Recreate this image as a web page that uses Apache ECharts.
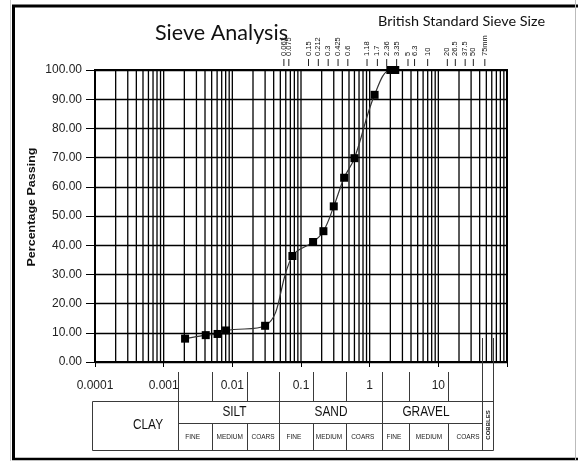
<!DOCTYPE html>
<html><head><meta charset="utf-8">
<script src="https://cdn.jsdelivr.net/npm/echarts@6/dist/echarts.min.js"></script>
<style>html,body{margin:0;padding:0;background:#fff}#c{width:578px;height:461px}</style>
</head><body><div id="c"></div>
<script>
// ---- data ----
const grainSize = [0.00205, 0.0041, 0.0061, 0.0081, 0.030, 0.075, 0.15, 0.212, 0.3, 0.425, 0.6, 1.18, 2.0, 2.36];
const percentPassing = [8.0, 9.2, 9.6, 10.8, 12.4, 36.3, 41.1, 44.8, 53.3, 63.1, 69.8, 91.5, 100, 100];
const xTickLabels = ['0.0001', '0.001', '0.01', '0.1', '1', '10'];
const sieveSizes = [0.063, 0.075, 0.15, 0.212, 0.3, 0.425, 0.6, 1.18, 1.7, 2.36, 3.35, 5, 6.3, 10, 20, 26.5, 37.5, 50, 75];
const sieveLabels = ['0.063', '0.075', '0.15', '0.212', '0.3', '0.425', '0.6', '1.18', '1.7', '2.36', '3.35', '5', '6.3', '10', '20', '26.5', '37.5', '50', '75mm'];
const soilClasses = ['CLAY', 'SILT', 'SAND', 'GRAVEL'];
const subClasses = ['FINE', 'MEDIUM', 'COARS'];
const cobblesLabel = 'COBBLES';

// log grid line values (1..9 per decade)
const gridVals = [];
for (let k = -4; k <= 1; k++) for (let m = 1; m <= 9; m++) gridVals.push(Number((m * Math.pow(10, k)).toPrecision(3)));
gridVals.push(100);

const ctx = document.createElement('canvas').getContext('2d');
function fit(text, font, target) { ctx.font = font; return target / ctx.measureText(text).width; }

const chart = echarts.init(document.getElementById('c'), null, { renderer: 'canvas' });

// ---- table graphics (decoration) ----
const G = [];
const LC = '#3a3a3a';
function L(x1, y1, x2, y2, w, c) { G.push({ type: 'line', z: 50, silent: true, shape: { x1, y1, x2, y2 }, style: { stroke: c || LC, lineWidth: w || 1 } }); }
function T(text, x, y, size, opt) {
  opt = opt || {};
  G.push({ type: 'text', z: 60, silent: true, x, y, rotation: opt.rot || 0, scaleX: opt.sx || 1,
    style: { text, fontSize: size, fontFamily: opt.ff || 'Liberation Sans', fontWeight: opt.fw || 'normal',
      fill: opt.fill || '#111', align: opt.align || 'center', verticalAlign: 'middle' } });
}
// frame
L(12, 6, 578, 6, 3, '#000');
L(13.5, 5, 13.5, 460, 3, '#000');
L(12, 459, 578, 459, 2.5, '#000');
L(575.5, 0, 575.5, 461, 1, '#bbb');
L(10.5, 0, 10.5, 461, 1, '#ccc');
// table outline
const tTop = 401.5, tMid = 423.5, tBot = 450.5, rowTop = 372;
L(92.5, tTop, 493.5, tTop);
L(92.5, tBot, 493.5, tBot);
L(178.5, tMid, 482.5, tMid);
L(92.5, tTop, 92.5, tBot);
[178.5, 279.5, 382.5].forEach(x => L(x, rowTop, x, tBot));
[212.5, 247.5, 313.5, 346.5, 409.5, 448.5].forEach(x => { L(x, rowTop, x, tTop); L(x, tMid, x, tBot); });
L(482.5, 338, 482.5, tBot);
L(493.5, 338, 493.5, tBot);
// table texts
const bigFont = 15, sxBig = 0.79;
T(soilClasses[0], 148, 425, bigFont, { sx: sxBig });
T(soilClasses[1], 234.5, 412, bigFont, { sx: sxBig });
T(soilClasses[2], 331, 412, bigFont, { sx: sxBig });
T(soilClasses[3], 426, 412, bigFont, { sx: sxBig });
const subX = [192.7, 229.7, 263, 294, 329, 362.7, 394, 429, 468];
subX.forEach((x, i) => T(subClasses[i % 3], x, 437, 6.5, { fill: '#222' }));
T(cobblesLabel, 488, 425, 6, { rot: Math.PI / 2, fw: 'bold', fill: '#222' });
// titles
T('Sieve Analysis', 155, 33, 22, { ff: 'Lato', align: 'left', sx: fit('Sieve Analysis', '22px Lato', 133), fill: '#111' });
T('British Standard Sieve Size', 378, 22, 12.5, { ff: 'Lato', align: 'left', sx: fit('British Standard Sieve Size', '12.5px Lato', 167), fill: '#111' });
T('Percentage Passing', 32, 207, 11, { rot: Math.PI / 2, fw: 'bold', sx: fit('Percentage Passing', 'bold 11px Liberation Sans', 119), fill: '#111' });

const option = {
  animation: false,
  backgroundColor: '#fff',
  grid: [
    { left: 95, right: 71, top: 70, bottom: 99, show: true, borderColor: '#000', borderWidth: 2 },
    { left: 101, right: 85, top: 20, height: 46, show: false }
  ],
  xAxis: [
    { type: 'log', gridIndex: 0, logBase: 10, min: 0.0001, max: 100, splitNumber: 6,
      axisLine: { show: true, lineStyle: { color: '#000', width: 2 } },
      axisTick: { show: true, length: 5, lineStyle: { color: '#000', width: 1 } },
      splitLine: { show: false },
      axisLabel: { margin: 18, fontSize: 12, color: '#222', fontFamily: 'Liberation Sans',
        showMinLabel: true, showMaxLabel: true,
        formatter: v => { const k = Math.round(Math.log10(v)) + 4; return xTickLabels[k] !== undefined ? xTickLabels[k] : ''; } } },
    { type: 'log', gridIndex: 1, logBase: 10, min: 0.0001, max: 100, show: false }
  ],
  yAxis: [
    { type: 'value', gridIndex: 0, min: 0, max: 100, interval: 10,
      axisLine: { show: true, lineStyle: { color: '#000', width: 2 } },
      axisTick: { show: true, length: 9, lineStyle: { color: '#000', width: 1 } },
      splitLine: { show: true, lineStyle: { color: '#000', width: 1.4 } },
      axisLabel: { margin: 13, fontSize: 12, color: '#222', fontFamily: 'Liberation Sans', formatter: v => v.toFixed(2) } },
    { type: 'value', gridIndex: 1, min: 0, max: 1, show: false }
  ],
  series: [
    { type: 'custom', xAxisIndex: 0, yAxisIndex: 0, z: 1, silent: true,
      data: gridVals.map(v => [v, 0]), encode: { x: 0, y: 1 },
      renderItem: (p, api) => {
        const a = api.coord([api.value(0), 0]), b = api.coord([api.value(0), 100]);
        return { type: 'line', shape: { x1: a[0], y1: a[1], x2: b[0], y2: b[1] }, style: { stroke: '#000', lineWidth: 1.3 } };
      } },
    { type: 'custom', xAxisIndex: 1, yAxisIndex: 1, z: 5, silent: true,
      data: sieveSizes.map((v, i) => [v, 0, i]), encode: { x: 0, y: 1 },
      renderItem: (p, api) => {
        const c = api.coord([api.value(0), 0]); const i = api.value(2);
        return { type: 'group', children: [
          { type: 'line', shape: { x1: c[0], y1: c[1] - 7, x2: c[0], y2: c[1] }, style: { stroke: '#222', lineWidth: 1 } },
          { type: 'text', x: c[0], y: c[1] - 10, rotation: Math.PI / 2,
            style: { text: sieveLabels[i], fontSize: 7.5, fill: '#111', fontFamily: 'Liberation Sans', align: 'left', verticalAlign: 'middle' } }
        ] };
      } },
    { type: 'line', xAxisIndex: 0, yAxisIndex: 0, z: 10,
      data: grainSize.map((x, i) => [x, percentPassing[i]]),
      smooth: 0.4, symbol: 'rect', symbolSize: 8, showAllSymbol: true,
      itemStyle: { color: '#000' }, lineStyle: { color: '#333', width: 1.2 } }
  ],
  graphic: G
};
chart.setOption(option);
</script>
</body></html>
